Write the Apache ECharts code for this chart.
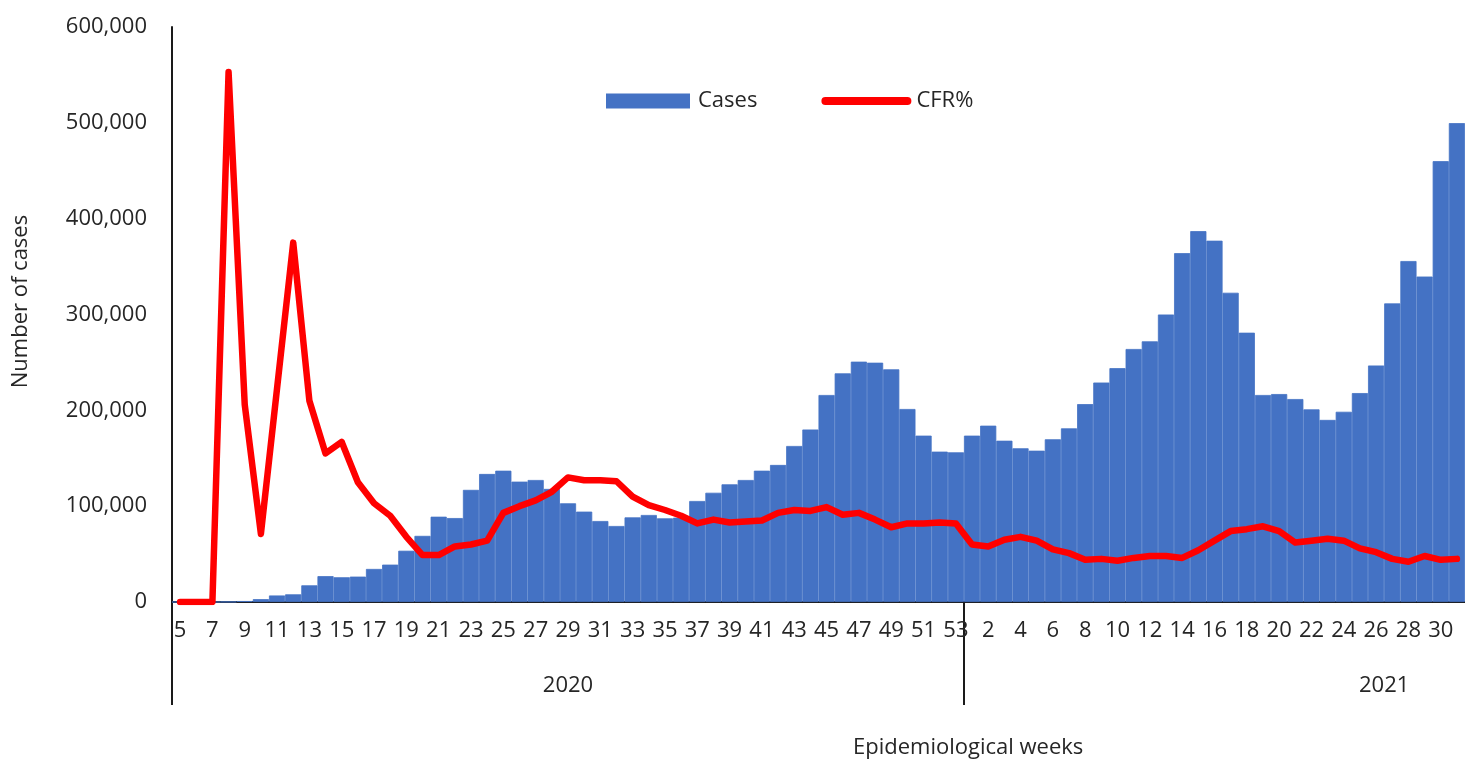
<!DOCTYPE html>
<html lang="en">
<head>
    <meta charset="UTF-8">
    <title>Cases and CFR% by epidemiological week</title>
    <style>
        html, body { margin: 0; padding: 0; background: #fff; }
    </style>
    <script src="https://cdn.jsdelivr.net/npm/echarts@6/dist/echarts.min.js"></script>
</head>
<body>
<div id="main" style="width:1465px;height:762px"></div>
<script>
    // weeks shown on the axis
    var weeks2020 = [5, 6, 7, 8, 9, 10, 11, 12, 13, 14, 15, 16, 17, 18, 19, 20, 21, 22, 23, 24, 25, 26, 27, 28, 29,
        30, 31, 32, 33, 34, 35, 36, 37, 38, 39, 40, 41, 42, 43, 44, 45, 46, 47, 48, 49, 50, 51, 52, 53];
    var weeks2021 = [1, 2, 3, 4, 5, 6, 7, 8, 9, 10, 11, 12, 13, 14, 15, 16, 17, 18, 19, 20, 21, 22, 23, 24, 25,
        26, 27, 28, 29, 30, 31];
    var years = ['2020', '2021'];
    var weeksInYear2021 = 52; // the 2021 group runs on past the visible edge

    var cases2020 = [0, 0, 0, 200, 1000, 3000, 6800, 8000, 17400, 27000, 25800, 26500, 34500, 39000, 53500,
        69000, 89000, 87600, 117000, 133600, 137000, 125600, 127300, 118000, 103000, 94300, 84500, 79300,
        88300, 90800, 87300, 88000, 105400, 114000, 122800, 127300, 137000, 143000, 162800, 180000, 216000,
        238600, 250800, 249700, 242800, 201400, 173600, 156900, 156200];
    var cases2021 = [173600, 184000, 168300, 160400, 157900, 169800, 181200, 206500, 229000, 244000, 264000,
        272000, 300000, 364000, 387000, 377000, 322700, 281000, 216000, 217000, 211800, 201000, 190000,
        198500, 218000, 246800, 311600, 355800, 339600, 460000, 499700];

    // case fatality rate, %
    var cfr2020 = [0, 0, 0, 5.53, 2.06, 0.71, 2.23, 3.75, 2.10, 1.55, 1.67, 1.25, 1.03, 0.90, 0.68, 0.49, 0.49,
        0.58, 0.60, 0.64, 0.93, 1.00, 1.06, 1.15, 1.30, 1.27, 1.27, 1.26, 1.10, 1.01, 0.96, 0.90, 0.82, 0.86,
        0.83, 0.84, 0.85, 0.93, 0.96, 0.95, 0.99, 0.91, 0.93, 0.86, 0.78, 0.82, 0.82, 0.83, 0.82];
    var cfr2021 = [0.60, 0.58, 0.65, 0.68, 0.64, 0.55, 0.51, 0.44, 0.45, 0.43, 0.46, 0.48, 0.48, 0.46, 0.54,
        0.64, 0.74, 0.76, 0.79, 0.74, 0.62, 0.64, 0.66, 0.64, 0.56, 0.52, 0.45, 0.42, 0.48, 0.44, 0.45];

    var categories = weeks2020.map(function (w) { return '2020-' + w; })
        .concat(weeks2021.map(function (w) { return '2021-' + w; }));
    var cases = cases2020.concat(cases2021);
    var cfr = cfr2020.concat(cfr2021);

    var n2020 = weeks2020.length;
    var yearTicks = [0, n2020];
    var yearCenters = [n2020 / 2, n2020 + weeksInYear2021 / 2];

    var font = '"Open Sans", "Noto Sans", sans-serif';
    var txt = '#262626';

    var myChart = echarts.init(document.getElementById('main'));
    var option = {
        animation: false,
        textStyle: { fontFamily: font },
        title: {
            text: 'Epidemiological weeks',
            left: 853,
            top: 737,
            padding: 0,
            textStyle: { fontFamily: font, fontSize: 22, fontWeight: 'normal', color: txt }
        },
        legend: {
            left: 601,
            top: 85,
            itemWidth: 82,
            itemHeight: 13,
            itemGap: 64,
            textStyle: { fontFamily: font, fontSize: 22, color: txt, padding: [0, 0, 0, 4] },
            data: [
                { name: 'Cases', icon: 'rect' },
                {
                    name: 'CFR%',
                    lineStyle: { width: 8, cap: 'round' },
                    itemStyle: { opacity: 0 }
                }
            ]
        },
        grid: { left: 172, top: 27, width: 1296, height: 575, containLabel: false },
        xAxis: [{
            type: 'category',
            data: categories,
            axisLine: { show: true, lineStyle: { color: '#1a1a1a', width: 2 } },
            axisTick: { show: false },
            axisLabel: {
                interval: 1,
                margin: 18,
                fontSize: 22,
                color: txt,
                formatter: function (v) { return v.split('-')[1]; }
            },
            splitLine: { show: false }
        }, {
            type: 'value',
            min: 0,
            max: categories.length,
            position: 'bottom',
            axisLine: { show: false },
            splitLine: { show: false },
            axisTick: {
                show: true,
                customValues: yearTicks,
                length: 103,
                lineStyle: { color: '#1a1a1a', width: 2 }
            },
            axisLabel: {
                customValues: yearCenters,
                margin: 73,
                fontSize: 22,
                color: txt,
                formatter: function (v) { return v < n2020 ? years[0] : years[1]; }
            }
        }],
        yAxis: [{
            type: 'value',
            min: 0,
            max: 600000,
            interval: 100000,
            name: 'Number of cases',
            nameLocation: 'middle',
            nameGap: 140,
            nameRotate: 90,
            nameTextStyle: { fontFamily: font, fontSize: 22, color: txt, padding: [0, 0, 0, 26] },
            axisLine: { show: true, lineStyle: { color: '#1a1a1a', width: 2 } },
            axisTick: { show: false },
            splitLine: { show: false },
            axisLabel: {
                margin: 25,
                fontSize: 22,
                color: txt,
                formatter: function (v) { return v.toLocaleString('en-US'); }
            }
        }, {
            type: 'value',
            min: 0,
            max: 6,
            show: false,
            splitLine: { show: false }
        }],
        series: [{
            name: 'Cases',
            type: 'bar',
            data: cases,
            barWidth: '100%',
            barCategoryGap: 0,
            itemStyle: { color: '#4472C4', borderColor: '#4472C4', borderWidth: 0.8 }
        }, {
            name: 'CFR%',
            type: 'line',
            yAxisIndex: 1,
            data: cfr,
            symbol: 'none',
            lineStyle: { color: '#FF0000', width: 6.5, cap: 'round', join: 'round' },
            itemStyle: { color: '#FF0000' }
        }]
    };
    myChart.setOption(option);
</script>
</body>
</html>
